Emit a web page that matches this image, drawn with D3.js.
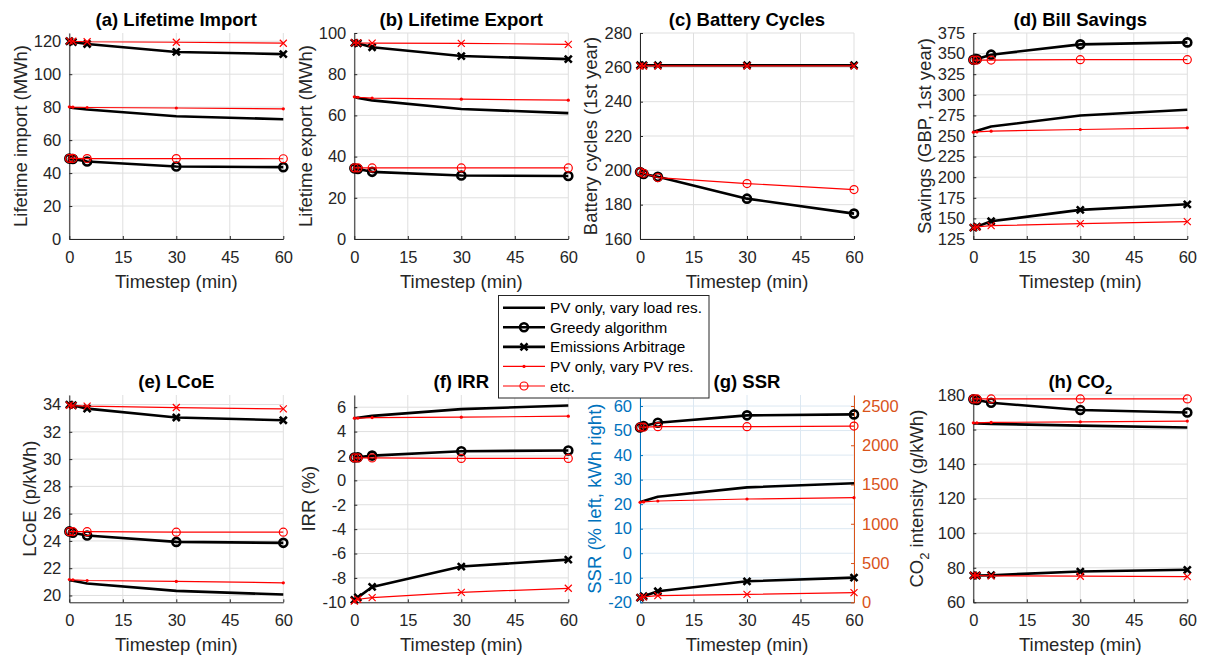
<!DOCTYPE html>
<html>
<head>
<meta charset="utf-8">
<script src="https://cdn.jsdelivr.net/npm/d3@7"></script>
<style>
    body { margin: 0; background: #fff; }
    svg text { font-family: "Liberation Sans", Arial, sans-serif; }
</style>
</head>
<body>
<div id="chart"></div>
<script>
// Timestep sweep, 8 panels, 6 series each
// Series order: PV only (load res.), Greedy (load res.), Emissions Arbitrage (load res.),
//               PV only (PV res.), Greedy (PV res.), Emissions Arbitrage (PV res.)

var timesteps = [0.0167, 1, 5, 30, 60];
var xTicks = [0, 15, 30, 45, 60];

var legendNames = [
    "PV only, vary load res.",
    "Greedy algorithm",
    "Emissions Arbitrage",
    "PV only, vary PV res.",
    "etc."
];

var lifetimeImport = [
    [80.0, 79.5, 78.6, 74.5, 72.7],
    [48.8, 48.5, 47.0, 44.0, 43.6],
    [120.0, 119.5, 118.3, 113.5, 112.2],
    [80.2, 80.0, 79.8, 79.5, 79.0],
    [48.9, 48.9, 48.8, 48.8, 48.7],
    [120.2, 120.0, 119.7, 119.4, 118.8]
];
var lifetimeExport = [
    [69.0, 68.5, 67.3, 63.1, 61.1],
    [34.3, 34.0, 32.6, 30.8, 30.6],
    [95.2, 95.0, 93.1, 88.8, 87.3],
    [69.0, 68.8, 68.4, 67.9, 67.4],
    [34.5, 34.5, 34.5, 34.5, 34.5],
    [95.3, 95.2, 95.1, 95.0, 94.5]
];
// PV only has no battery: 0 cycles, off the visible scale
var batteryCycles = [
    [0, 0, 0, 0, 0],
    [199.0, 197.9, 196.2, 183.5, 174.8],
    [261.2, 261.2, 261.2, 261.2, 261.2],
    [0, 0, 0, 0, 0],
    [199.1, 198.3, 195.8, 192.3, 188.8],
    [260.8, 260.8, 260.8, 260.8, 260.8]
];
var billSavings = [
    [255.0, 256.5, 261.5, 274.9, 281.8],
    [342.6, 343.4, 348.7, 361.2, 363.6],
    [138.8, 140.0, 146.5, 160.3, 167.1],
    [254.7, 254.9, 255.9, 257.9, 259.9],
    [342.2, 342.2, 342.2, 342.6, 342.6],
    [138.8, 139.6, 141.2, 143.6, 146.1]
];
var lcoe = [
    [21.12, 21.08, 20.88, 20.34, 20.07],
    [24.70, 24.60, 24.40, 23.93, 23.86],
    [34.00, 33.95, 33.70, 33.05, 32.85],
    [21.17, 21.15, 21.10, 21.03, 20.93],
    [24.68, 24.68, 24.68, 24.64, 24.64],
    [33.95, 33.92, 33.88, 33.78, 33.68]
];
var irr = [
    [5.10, 5.14, 5.29, 5.84, 6.14],
    [1.87, 1.90, 2.03, 2.39, 2.45],
    [-9.80, -9.60, -8.74, -7.07, -6.50],
    [5.10, 5.11, 5.15, 5.18, 5.26],
    [1.84, 1.84, 1.84, 1.80, 1.80],
    [-9.90, -9.75, -9.62, -9.18, -8.85]
];
var ssr = [
    [20.75, 21.3, 23.05, 26.86, 28.5],
    [51.3, 51.85, 53.2, 56.2, 56.6],
    [-18.1, -17.55, -15.5, -11.44, -9.95],
    [20.75, 20.9, 21.3, 22.1, 22.65],
    [51.4, 51.4, 51.6, 51.6, 51.85],
    [-18.1, -17.8, -17.3, -16.74, -16.06]
];
var co2 = [
    [163.5, 163.5, 163.3, 162.3, 161.2],
    [177.5, 177.1, 175.5, 171.3, 169.9],
    [75.5, 75.5, 75.7, 77.8, 78.8],
    [163.9, 163.9, 164.1, 164.5, 164.9],
    [177.7, 177.7, 177.7, 177.7, 177.7],
    [75.5, 75.5, 75.3, 75.1, 74.9]
];

var importTicks = [0, 20, 40, 60, 80, 100, 120];
var exportTicks = [0, 20, 40, 60, 80, 100];
var cycleTicks = [160, 180, 200, 220, 240, 260, 280];
var savingTicks = [125, 150, 175, 200, 225, 250, 275, 300, 325, 350, 375];
var lcoeTicks = [20, 22, 24, 26, 28, 30, 32, 34];
var irrTicks = [-10, -8, -6, -4, -2, 0, 2, 4, 6];
var ssrTicks = [-20, -10, 0, 10, 20, 30, 40, 50, 60];
var ssrRightTicks = [0, 500, 1000, 1500, 2000, 2500];
var co2Ticks = [60, 80, 100, 120, 140, 160, 180];

// Series styling
var seriesColor = ["#000", "#000", "#000", "#ff0000", "#ff0000", "#ff0000"];
var seriesWidth = [2.6, 2.6, 2.6, 1.2, 1.2, 1.2];
var seriesMarker = ["none", "o", "x", "dot", "o", "x"];

var panels = [
    { title: "(a) Lifetime Import", ylabel: "Lifetime import (MWh)", data: lifetimeImport, domain: [0, 125], ticks: importTicks, col: 0, row: 0 },
    { title: "(b) Lifetime Export", ylabel: "Lifetime export (MWh)", data: lifetimeExport, domain: [0, 100], ticks: exportTicks, col: 1, row: 0 },
    { title: "(c) Battery Cycles", ylabel: "Battery cycles (1st year)", data: batteryCycles, domain: [160, 280], ticks: cycleTicks, col: 2, row: 0 },
    { title: "(d) Bill Savings", ylabel: "Savings (GBP, 1st year)", data: billSavings, domain: [125, 375], ticks: savingTicks, col: 3, row: 0 },
    { title: "(e) LCoE", ylabel: "LCoE (p/kWh)", data: lcoe, domain: [19.5, 34.7], ticks: lcoeTicks, col: 0, row: 1 },
    { title: "(f) IRR", ylabel: "IRR (%)", data: irr, domain: [-10, 7], ticks: irrTicks, col: 1, row: 1 },
    { title: "(g) SSR", ylabel: "SSR (% left, kWh right)", data: ssr, domain: [-20, 64.5], ticks: ssrTicks, col: 2, row: 1,
      rightDomain: [0, 2640], rightTicks: ssrRightTicks },
    { title: "(h) CO", sub: "2", ylabel: "CO", ylabelSub: "2", ylabelRest: " intensity (g/kWh)", data: co2, domain: [60, 180], ticks: co2Ticks, col: 3, row: 1 }
];

var width = 1207, height = 658;
var colLeft = [69.3, 354.3, 640, 973.3];
var plotW = 214;
var rowTop = [33, 395];
var rowBottom = [239, 602.3];

var axisColor = "#262626";
var gridColor = "#dfdfdf";
var blue = "#0072bd", orange = "#d95319";

// plain hyphen minus, no thousands separator (MATLAB style)
var tickFmt = function(d) { return String(d); };

var svg = d3.select("#chart").append("svg")
    .attr("width", width)
    .attr("height", height);

panels.forEach(drawPanel);
drawLegend();

function drawPanel(p) {
    var left = colLeft[p.col];
    var top = rowTop[p.row];
    var bottom = rowBottom[p.row];
    var h = bottom - top;
    var isSSR = !!p.rightDomain;
    var leftColor = isSSR ? blue : axisColor;
    var grid = isSSR ? "#dce8f2" : gridColor;

    var g = svg.append("g").attr("transform", "translate(" + left + "," + top + ")");

    var x = d3.scaleLinear().domain([0, 60]).range([0, plotW]);
    var y = d3.scaleLinear().domain(p.domain).range([h, 0]);

    // grid
    g.selectAll(".gx").data(xTicks).enter().append("line")
        .attr("x1", d => x(d)).attr("x2", d => x(d))
        .attr("y1", 0).attr("y2", h)
        .attr("stroke", grid).attr("stroke-width", 1);
    g.selectAll(".gy").data(p.ticks).enter().append("line")
        .attr("x1", 0).attr("x2", plotW)
        .attr("y1", d => y(d)).attr("y2", d => y(d))
        .attr("stroke", grid).attr("stroke-width", 1);

    // axes
    var xAxis = g.append("g")
        .attr("transform", "translate(0," + h + ")")
        .call(d3.axisBottom(x).tickValues(xTicks).tickFormat(tickFmt)
            .tickSize(-3).tickSizeOuter(0).tickPadding(12));
    styleAxis(xAxis, axisColor);

    var yAxis = g.append("g")
        .call(d3.axisLeft(y).tickValues(p.ticks).tickFormat(tickFmt)
            .tickSize(-3).tickSizeOuter(0).tickPadding(8));
    styleAxis(yAxis, leftColor);

    if (isSSR) {
        var y2 = d3.scaleLinear().domain(p.rightDomain).range([h, 0]);
        var rAxis = g.append("g")
            .attr("transform", "translate(" + plotW + ",0)")
            .call(d3.axisRight(y2).tickValues(p.rightTicks).tickFormat(tickFmt)
                .tickSize(-3).tickSizeOuter(0).tickPadding(8));
        styleAxis(rAxis, orange);
    }

    // series: black first, red on top
    var line = d3.line()
        .x(function(d, i) { return x(timesteps[i]); })
        .y(function(d) { return y(d); });

    p.data.forEach(function(vals, s) {
        var lo = Math.min(p.domain[0], p.domain[1]);
        if (d3.max(vals) < lo) return; // off scale
        g.append("path")
            .datum(vals)
            .attr("d", line)
            .attr("fill", "none")
            .attr("stroke", seriesColor[s])
            .attr("stroke-width", seriesWidth[s])
            .attr("stroke-linejoin", "round");
        vals.forEach(function(v, i) {
            drawMarker(g, seriesMarker[s], x(timesteps[i]), y(v), seriesColor[s], seriesWidth[s]);
        });
    });

    // y label
    var tickLeft = d3.min(yAxis.selectAll(".tick text").nodes(), function(n) {
        return n.getBBox().x;
    });
    var labelX = tickLeft - 7 - (p.ylabelSub ? 8 : 0);
    var yl = g.append("text")
        .attr("transform", "translate(" + labelX + "," + (h / 2) + ") rotate(-90)")
        .attr("text-anchor", "middle")
        .attr("font-size", "18.5px")
        .attr("fill", isSSR ? blue : axisColor);
    if (p.ylabelSub) {
        yl.append("tspan").text(p.ylabel);
        yl.append("tspan").attr("dy", 6).attr("font-size", "13px").text(p.ylabelSub);
        yl.append("tspan").attr("dy", -6).text(p.ylabelRest);
    } else {
        yl.text(p.ylabel);
    }

    // x label
    g.append("text")
        .attr("x", plotW / 2)
        .attr("y", h + 49)
        .attr("text-anchor", "middle")
        .attr("font-size", "18.5px")
        .attr("fill", axisColor)
        .text("Timestep (min)");

    // title
    var t = g.append("text")
        .attr("x", plotW / 2)
        .attr("y", -7)
        .attr("text-anchor", "middle")
        .attr("font-size", "18.5px")
        .attr("font-weight", "bold")
        .attr("fill", "#000");
    t.append("tspan").text(p.title);
    if (p.sub) {
        t.append("tspan").attr("dy", 6).attr("font-size", "13px").text(p.sub);
    }
}

function styleAxis(sel, color) {
    sel.select(".domain").attr("stroke", color).attr("stroke-width", 1);
    sel.selectAll(".tick line").attr("stroke", color).attr("stroke-width", 1);
    sel.selectAll(".tick text")
        .attr("fill", color)
        .attr("font-size", "16.5px")
        .attr("font-family", "Liberation Sans, Arial, sans-serif");
}

function drawMarker(g, type, cx, cy, color, lw) {
    if (type === "o") {
        g.append("circle")
            .attr("cx", cx).attr("cy", cy).attr("r", 4)
            .attr("fill", "none")
            .attr("stroke", color)
            .attr("stroke-width", lw);
    } else if (type === "x") {
        var s = 3.5;
        g.append("path")
            .attr("d", "M" + (cx - s) + "," + (cy - s) + "L" + (cx + s) + "," + (cy + s) +
                       "M" + (cx - s) + "," + (cy + s) + "L" + (cx + s) + "," + (cy - s))
            .attr("stroke", color)
            .attr("stroke-width", lw);
    } else if (type === "dot") {
        g.append("circle")
            .attr("cx", cx).attr("cy", cy).attr("r", 1.6)
            .attr("fill", color);
    }
}

function drawLegend() {
    var lg = svg.append("g");
    lg.append("rect")
        .attr("x", 498.5).attr("y", 295.5)
        .attr("width", 210.5).attr("height", 102.5)
        .attr("fill", "#fff")
        .attr("stroke", axisColor)
        .attr("stroke-width", 1);

    var rowY = d3.scaleLinear().domain([0, legendNames.length - 1]).range([307.7, 386]);

    legendNames.forEach(function(name, i) {
        var yy = rowY(i);
        lg.append("line")
            .attr("x1", 503).attr("x2", 545)
            .attr("y1", yy).attr("y2", yy)
            .attr("stroke", seriesColor[i])
            .attr("stroke-width", seriesWidth[i]);
        drawMarker(lg, seriesMarker[i], 524, yy, seriesColor[i], seriesWidth[i]);
        lg.append("text")
            .attr("x", 550)
            .attr("y", yy + 5.5)
            .attr("font-size", "15.3px")
            .attr("fill", "#000")
            .text(name);
    });
}
</script>
</body>
</html>
